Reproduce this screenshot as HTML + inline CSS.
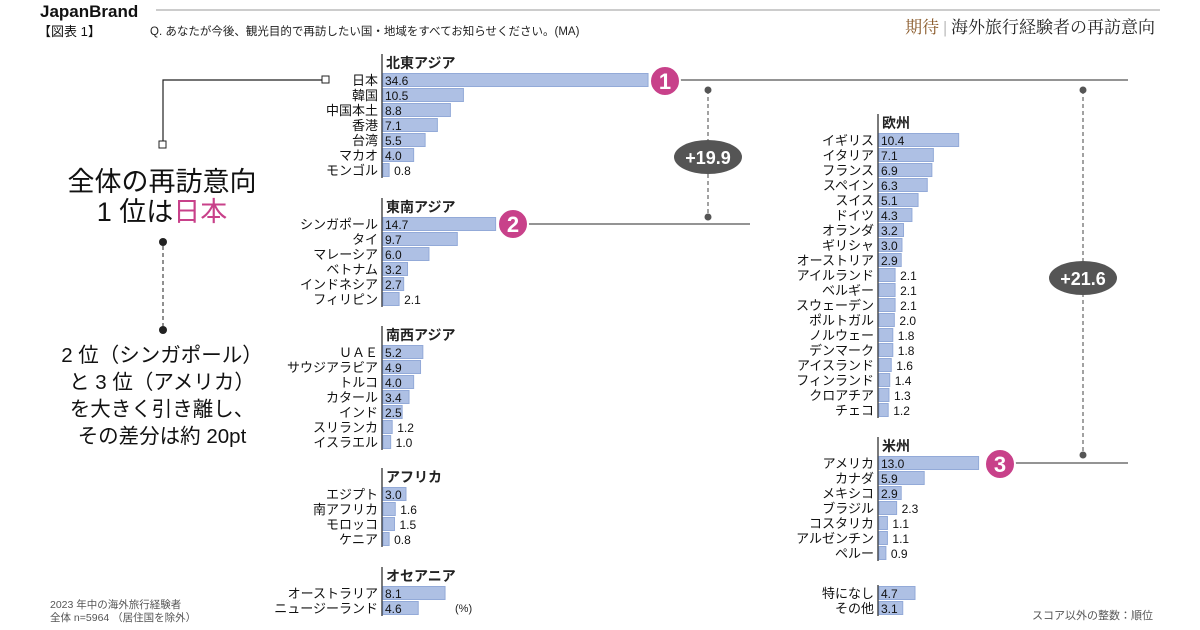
<!DOCTYPE html>
<html><head><meta charset="utf-8"><style>
body{margin:0;background:#fff;}
svg{display:block;font-family:"Liberation Sans","Noto Sans CJK JP",sans-serif;}
</style></head><body>
<svg id="c" width="1200" height="630" viewBox="0 0 1200 630" xmlns="http://www.w3.org/2000/svg">
<g>
<text x="40" y="17" font-size="17" font-weight="bold" fill="#111">JapanBrand</text>
<line x1="156" y1="10" x2="1160" y2="10" stroke="#999" stroke-width="1"/>
<text x="38" y="36" font-size="13" fill="#111">【図表 1】</text>
<text x="150" y="35" font-size="11.5" fill="#222">Q. あなたが今後、観光目的で再訪したい国・地域をすべてお知らせください。(MA)</text>
<text x="1155" y="33" font-size="17" text-anchor="end" font-family="Liberation Serif,Noto Serif CJK SC,serif"><tspan fill="#8a5a2a">期待</tspan><tspan fill="#999"> | </tspan><tspan fill="#222">海外旅行経験者の再訪意向</tspan></text>
</g>
<g id="bars"></g>
<text x="50" y="608" font-size="10.5" fill="#555">2023 年中の海外旅行経験者</text>
<text x="50" y="621" font-size="10.5" fill="#555">全体 n=5964 （居住国を除外）</text>
<text x="455" y="612" font-size="11" fill="#222">(%)</text>
<text x="1153" y="619" font-size="11" fill="#555" text-anchor="end">スコア以外の整数：順位</text>
</svg>
<script>
const groupNames=["北東アジア","東南アジア","南西アジア","アフリカ","オセアニア","欧州","米州",""];
const groupCats=[
["日本","韓国","中国本土","香港","台湾","マカオ","モンゴル"],
["シンガポール","タイ","マレーシア","ベトナム","インドネシア","フィリピン"],
["ＵＡＥ","サウジアラビア","トルコ","カタール","インド","スリランカ","イスラエル"],
["エジプト","南アフリカ","モロッコ","ケニア"],
["オーストラリア","ニュージーランド"],
["イギリス","イタリア","フランス","スペイン","スイス","ドイツ","オランダ","ギリシャ","オーストリア","アイルランド","ベルギー","スウェーデン","ポルトガル","ノルウェー","デンマーク","アイスランド","フィンランド","クロアチア","チェコ"],
["アメリカ","カナダ","メキシコ","ブラジル","コスタリカ","アルゼンチン","ペルー"],
["特になし","その他"]];
const groupVals=[
[34.6,10.5,8.8,7.1,5.5,4.0,0.8],
[14.7,9.7,6.0,3.2,2.7,2.1],
[5.2,4.9,4.0,3.4,2.5,1.2,1.0],
[3.0,1.6,1.5,0.8],
[8.1,4.6],
[10.4,7.1,6.9,6.3,5.1,4.3,3.2,3.0,2.9,2.1,2.1,2.1,2.0,1.8,1.8,1.6,1.4,1.3,1.2],
[13.0,5.9,2.9,2.3,1.1,1.1,0.9],
[4.7,3.1]];
const groupAxisX=[382,382,382,382,382,878,878,878];
const groupFirstY=[80,224,352,494,593,140,463,593];
const rowH=15, pxPer=7.66;
const NS="http://www.w3.org/2000/svg";
function mk(t,a,p){const e=document.createElementNS(NS,t);for(const k in a)e.setAttribute(k,a[k]);p.appendChild(e);return e;}
const xs=(ax,v)=>ax+v*pxPer;
const G=document.getElementById('bars');
groupNames.forEach((gn,gi)=>{
  const g=mk('g',{},G);
  
  
  const ax=groupAxisX[gi], y0=groupFirstY[gi], n=groupCats[gi].length;
  const top=gn?y0-26:y0-8;
  const axl=mk('line',{x1:ax,y1:top,x2:ax,y2:y0+(n-1)*rowH+8,stroke:'#222','stroke-width':1.2},g);
  
  
  if(gn){const h=mk('text',{x:ax+4,y:y0-12,'font-size':14,'font-weight':'bold',fill:'#222'},g);h.textContent=gn;
    
    }
  groupCats[gi].forEach((c,i)=>{
    const v=groupVals[gi][i], y=y0+i*rowH;
    const r=mk('rect',{x:ax+1,y:y-6.5,width:xs(ax,v)-ax,height:13,fill:'#aec0e4',stroke:'#93aad8','stroke-width':1},g);
    
    
    const l=mk('text',{x:ax-4,y:y+5,'font-size':13,'text-anchor':'end',fill:'#111'},g);l.textContent=c;
    
    
    const inside=v>=2.5;
    const t=mk('text',{x:inside?ax+3:xs(ax,v)+6,y:y+5,'font-size':12,fill:'#111'},g);t.textContent=v.toFixed(1);
    
    
  });
});
</script>
<svg style="position:absolute;left:0;top:0" width="1200" height="630" font-family="Liberation Sans,Noto Sans CJK JP,sans-serif">
<g>
<polyline points="325,80 163,80 163,143" fill="none" stroke="#222" stroke-width="1.2"/>
<rect x="322" y="76" width="7" height="7" fill="#fff" stroke="#222"/>
<rect x="159" y="141" width="7" height="7" fill="#fff" stroke="#222"/>
<text x="162" y="191" font-size="27" text-anchor="middle" fill="#111">全体の再訪意向</text>
<text x="162" y="221" font-size="27" text-anchor="middle" fill="#111">1 位は<tspan fill="#c8418a">日本</tspan></text>
<circle cx="163" cy="242" r="4" fill="#222"/><circle cx="163" cy="330" r="4" fill="#222"/>
<line x1="163" y1="246" x2="163" y2="326" stroke="#222" stroke-dasharray="4,3"/>
<g font-size="20.5" text-anchor="middle" fill="#111">
<text x="162" y="362">2 位（シンガポール）</text><text x="162" y="389">と 3 位（アメリカ）</text>
<text x="162" y="416">を大きく引き離し、</text><text x="162" y="443">その差分は約 20pt</text></g>
<line x1="680" y1="80" x2="1128" y2="80" stroke="#555" stroke-width="1.2"/>
<line x1="528" y1="224" x2="750" y2="224" stroke="#555" stroke-width="1.2"/>
<line x1="1015" y1="463" x2="1128" y2="463" stroke="#555" stroke-width="1.2"/>
<line x1="708" y1="90" x2="708" y2="217" stroke="#444" stroke-dasharray="4,3"/>
<circle cx="708" cy="90" r="3.5" fill="#555"/><circle cx="708" cy="217" r="3.5" fill="#555"/>
<line x1="1083" y1="90" x2="1083" y2="455" stroke="#444" stroke-dasharray="4,3"/>
<circle cx="1083" cy="90" r="3.5" fill="#555"/><circle cx="1083" cy="455" r="3.5" fill="#555"/>
<ellipse cx="708" cy="157" rx="34" ry="17" fill="#555"/>
<text x="708" y="164" font-size="18" font-weight="bold" fill="#fff" text-anchor="middle">+19.9</text>
<ellipse cx="1083" cy="278" rx="34" ry="17" fill="#555"/>
<text x="1083" y="285" font-size="18" font-weight="bold" fill="#fff" text-anchor="middle">+21.6</text>
<g fill="#fff" font-size="22" font-weight="bold" text-anchor="middle">
<circle cx="665" cy="81" r="15" fill="#c8418a" stroke="#fff" stroke-width="2"/><text x="665" y="89">1</text>
<circle cx="513" cy="224" r="15" fill="#c8418a" stroke="#fff" stroke-width="2"/><text x="513" y="232">2</text>
<circle cx="1000" cy="464" r="15" fill="#c8418a" stroke="#fff" stroke-width="2"/><text x="1000" y="472">3</text>
</g></g></svg>
</body></html>
